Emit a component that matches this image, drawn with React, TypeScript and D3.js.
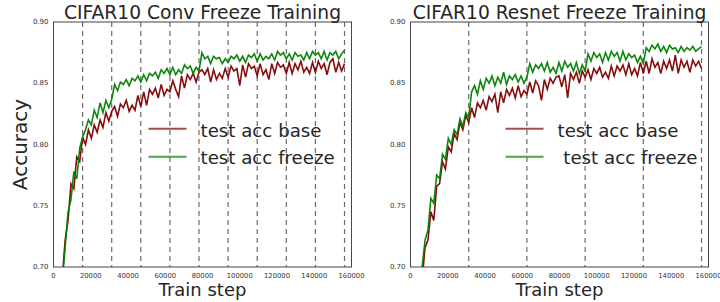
import React from 'react';
import * as d3 from 'd3';

// train step spacing of the logged points (index 0 -> step 3 * STEP)
const STEP = 1562.5;
const FIRST_INDEX = 3;

const yTicks = [0.7, 0.75, 0.8, 0.85, 0.9];
const xTicks = [0, 20000, 40000, 60000, 80000, 100000, 120000, 140000, 160000];

// freeze points (dashed lines)
const convFreezeSteps = [15625, 31250, 46875, 62500, 78125, 93750, 109375, 125000, 140625, 156250];
const resnetFreezeSteps = [31250, 62500, 93750, 125000, 156250];

const convBase = [
  0.690, 0.722, 0.738, 0.768, 0.764, 0.790, 0.786, 0.806, 0.800,
  0.812, 0.805, 0.816, 0.810, 0.820, 0.814, 0.826, 0.819, 0.827,
  0.831, 0.823, 0.833, 0.830, 0.836, 0.827, 0.832, 0.828, 0.840, 0.831,
  0.843, 0.832, 0.845, 0.841, 0.846, 0.838, 0.849, 0.840, 0.845, 0.843,
  0.852, 0.845, 0.839, 0.856, 0.846, 0.857, 0.853, 0.858, 0.851, 0.859,
  0.861, 0.857, 0.862, 0.851, 0.861, 0.853, 0.858, 0.854, 0.862, 0.855,
  0.864, 0.860, 0.862, 0.848, 0.865, 0.855, 0.866, 0.862, 0.864, 0.856,
  0.866, 0.857, 0.861, 0.853, 0.866, 0.858, 0.867, 0.863, 0.865, 0.858,
  0.867, 0.858, 0.866, 0.861, 0.868, 0.859, 0.863, 0.858, 0.867, 0.859,
  0.868, 0.862, 0.866, 0.857, 0.867, 0.870, 0.859, 0.867, 0.860, 0.866,
];

const convFreeze = [
  0.688, 0.716, 0.745, 0.755, 0.778, 0.772, 0.797, 0.806, 0.812,
  0.820, 0.816, 0.828, 0.822, 0.834, 0.826, 0.836, 0.830, 0.837,
  0.849, 0.844, 0.851, 0.849, 0.853, 0.848, 0.854, 0.852, 0.856, 0.851,
  0.857, 0.852, 0.858, 0.856, 0.859, 0.854, 0.861, 0.858, 0.862, 0.857,
  0.863, 0.857, 0.861, 0.858, 0.865, 0.862, 0.864, 0.858, 0.863, 0.860,
  0.875, 0.870, 0.872, 0.866, 0.872, 0.870, 0.871, 0.866, 0.870, 0.867,
  0.872, 0.870, 0.873, 0.868, 0.872, 0.867, 0.873, 0.871, 0.874, 0.868,
  0.874, 0.869, 0.872, 0.870, 0.874, 0.869, 0.876, 0.873, 0.875, 0.870,
  0.874, 0.869, 0.875, 0.872, 0.873, 0.869, 0.875, 0.870, 0.876, 0.873,
  0.875, 0.870, 0.876, 0.869, 0.875, 0.873, 0.876, 0.870, 0.874, 0.877,
];

const resnetBase = [
  0.680, 0.690, 0.716, 0.722, 0.745, 0.738, 0.766, 0.768, 0.786,
  0.780, 0.798, 0.794, 0.809, 0.804, 0.818, 0.812, 0.824, 0.818,
  0.830, 0.822, 0.834, 0.830, 0.836, 0.828, 0.839, 0.835, 0.841, 0.826,
  0.843, 0.834, 0.845, 0.840, 0.846, 0.838, 0.848, 0.839, 0.844, 0.841,
  0.851, 0.842, 0.852, 0.848, 0.836, 0.853, 0.845, 0.854, 0.850, 0.855,
  0.856, 0.847, 0.857, 0.838, 0.858, 0.853, 0.859, 0.850, 0.860, 0.855,
  0.861, 0.853, 0.862, 0.858, 0.863, 0.855, 0.859, 0.854, 0.864, 0.856,
  0.864, 0.860, 0.865, 0.857, 0.866, 0.857, 0.862, 0.856, 0.867, 0.858,
  0.868, 0.858, 0.870, 0.863, 0.867, 0.858, 0.868, 0.862, 0.869, 0.860,
  0.873, 0.858, 0.869, 0.863, 0.868, 0.859, 0.869, 0.864, 0.868, 0.862,
];

const resnetFreeze = [
  0.682, 0.700, 0.722, 0.730, 0.756, 0.752, 0.775, 0.772, 0.792,
  0.788, 0.805, 0.800, 0.812, 0.808, 0.821, 0.815, 0.826, 0.822,
  0.843, 0.848, 0.841, 0.852, 0.845, 0.854, 0.850, 0.856, 0.848, 0.855,
  0.850, 0.859, 0.849, 0.856, 0.853, 0.857, 0.851, 0.856, 0.850, 0.855,
  0.866, 0.859, 0.865, 0.862, 0.866, 0.860, 0.867, 0.859, 0.863, 0.858,
  0.867, 0.860, 0.868, 0.863, 0.866, 0.860, 0.867, 0.858, 0.865, 0.860,
  0.874, 0.868, 0.875, 0.871, 0.874, 0.867, 0.875, 0.869, 0.876, 0.872,
  0.875, 0.868, 0.876, 0.869, 0.874, 0.871, 0.873, 0.867, 0.872, 0.866,
  0.879, 0.876, 0.881, 0.878, 0.882, 0.876, 0.880, 0.875, 0.881, 0.878,
  0.879, 0.875, 0.880, 0.876, 0.879, 0.877, 0.880, 0.876, 0.878, 0.880,
];

const FONT = '"DejaVu Sans", sans-serif';
const BASE_COLOR = '#800000';
const FREEZE_COLOR = '#008000';

interface PanelProps {
  id: string;
  title: string;
  left: number;
  base: number[];
  freeze: number[];
  freezeSteps: number[];
  freezeLabel: string;
  showYLabel?: boolean;
}

const Panel: React.FC<PanelProps> = ({ id, title, left, base, freeze, freezeSteps, freezeLabel, showYLabel }) => {
  const top = 22;
  const bottom = 267;
  const width = 298;

  const x = d3.scaleLinear().domain([0, 160000]).range([left, left + width]);
  const y = d3.scaleLinear().domain([0.7, 0.9]).range([bottom, top]);

  const line = d3.line<number>()
    .x((_, i) => x((FIRST_INDEX + i) * STEP))
    .y(d => y(d));

  const legendX = left + 95;

  return (
    <g fontFamily={FONT}>
      <defs>
        <clipPath id={id}>
          <rect x={left} y={top} width={width} height={bottom - top} />
        </clipPath>
      </defs>

      {freezeSteps.map(s => (
        <line key={s} x1={x(s)} x2={x(s)} y1={top} y2={bottom}
          stroke="#6a6a6a" strokeWidth={1.2} strokeDasharray="5,4" />
      ))}

      <g clipPath={`url(#${id})`}>
        <path d={line(base) || ''} fill="none" stroke={BASE_COLOR} strokeWidth={1.6} strokeOpacity={0.95} />
        <path d={line(freeze) || ''} fill="none" stroke={FREEZE_COLOR} strokeWidth={1.6} strokeOpacity={0.95} />
      </g>

      <rect x={left} y={top} width={width} height={bottom - top} fill="none" stroke="#444" strokeWidth={1} />

      {yTicks.map(t => (
        <text key={t} x={left - 5} y={y(t)} fontSize={7} fill="#333" textAnchor="end" dominantBaseline="central">
          {d3.format('.2f')(t)}
        </text>
      ))}
      {xTicks.map(t => (
        <text key={t} x={x(t)} y={bottom + 9} fontSize={6.8} fill="#333" textAnchor="middle" dominantBaseline="central">
          {t}
        </text>
      ))}

      <text x={left + width / 2} y={19} fontSize={18.7} fill="#262626" textAnchor="middle">{title}</text>
      <text x={left + width / 2} y={295.5} fontSize={18} fill="#262626" textAnchor="middle">Train step</text>
      {showYLabel && (
        <text transform={`translate(${left - 27},${(top + bottom) / 2}) rotate(-90)`} fontSize={20}
          fill="#262626" textAnchor="middle">Accuracy</text>
      )}

      <line x1={legendX} x2={legendX + 38} y1={128.7} y2={128.7} stroke={BASE_COLOR} strokeOpacity={0.7} strokeWidth={2} />
      <text x={legendX + 52} y={137} fontSize={18.2} fill="#262626" style={{ whiteSpace: 'pre' }}>test acc base</text>
      <line x1={legendX} x2={legendX + 38} y1={156.7} y2={156.7} stroke={FREEZE_COLOR} strokeOpacity={0.7} strokeWidth={2} />
      <text x={legendX + 52} y={164} fontSize={18.2} fill="#262626" style={{ whiteSpace: 'pre' }}>{freezeLabel}</text>
    </g>
  );
};

const App: React.FC = () => {
  return (
    <svg width={720} height={302} style={{ position: 'absolute', left: 0, top: 0, background: 'white' }}>
      <rect width={720} height={302} fill="white" />
      <Panel id="clip-conv" title="CIFAR10 Conv Freeze Training" left={53.5}
        base={convBase} freeze={convFreeze} freezeSteps={convFreezeSteps}
        freezeLabel="test acc freeze" showYLabel />
      <Panel id="clip-resnet" title="CIFAR10 Resnet Freeze Training" left={410.5}
        base={resnetBase} freeze={resnetFreeze} freezeSteps={resnetFreezeSteps}
        freezeLabel=" test acc freeze" />
    </svg>
  );
};

export default App;
